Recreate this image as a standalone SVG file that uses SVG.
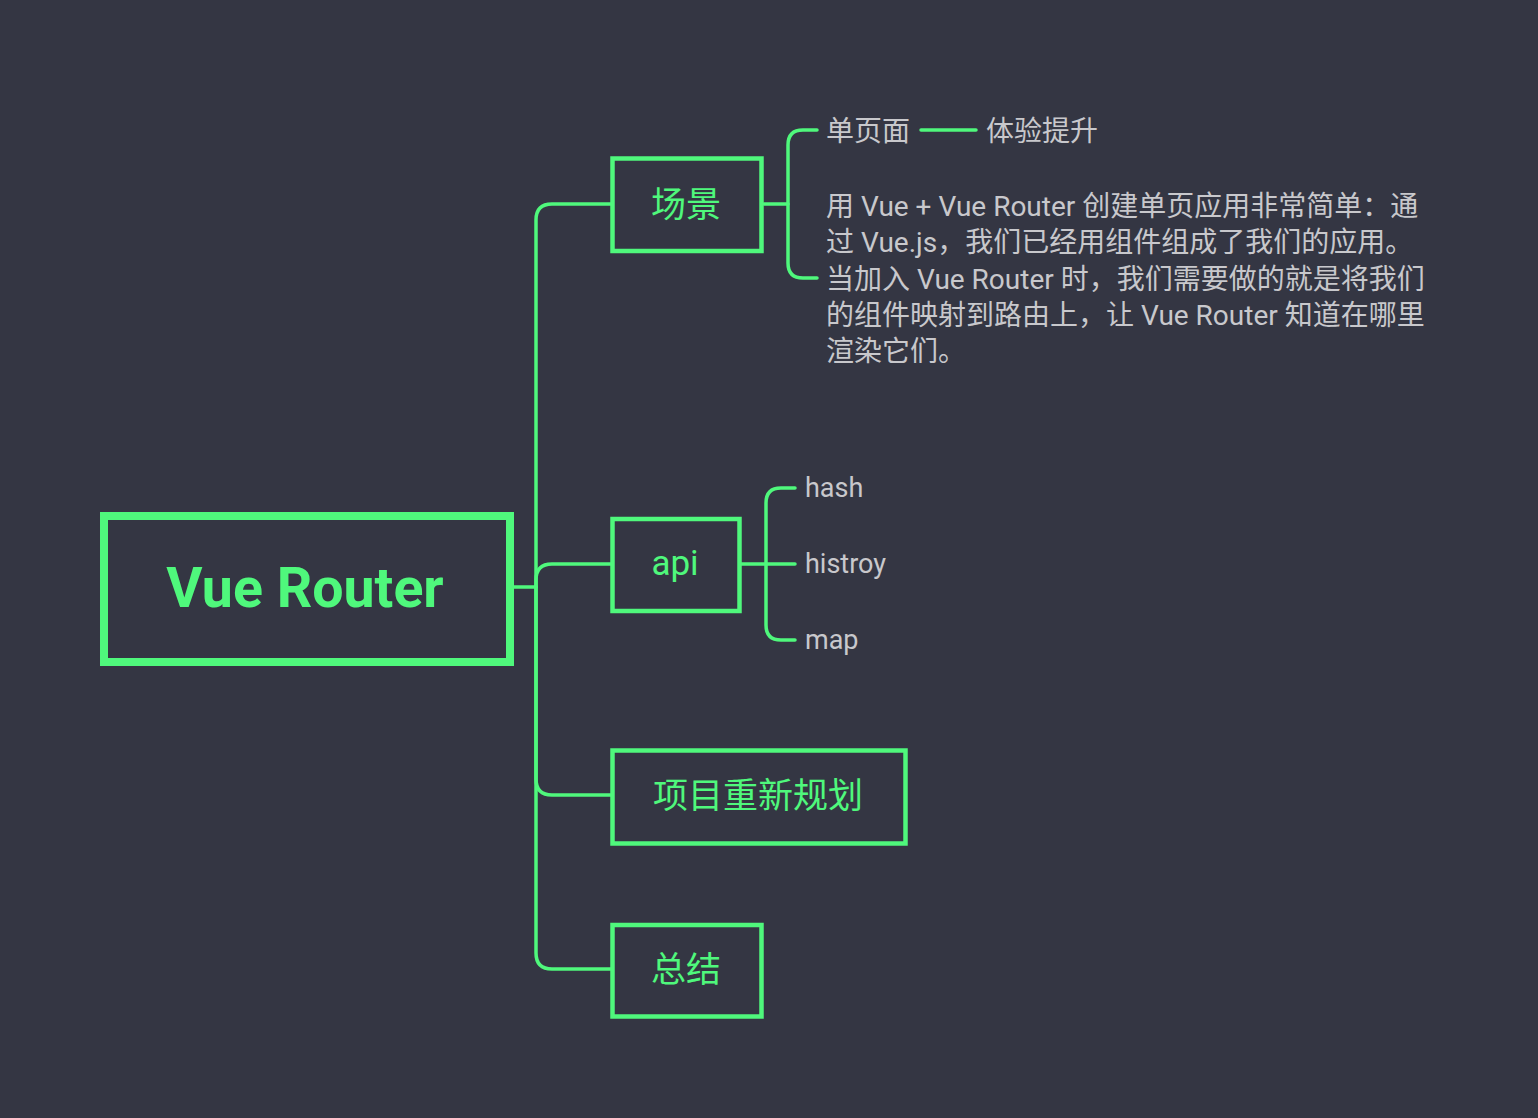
<svg xmlns="http://www.w3.org/2000/svg" width="1538" height="1118" viewBox="0 0 1538 1118">
  <style>
    .box { fill: none; stroke: #4ff87c; stroke-width: 4.5; }
    .root { fill: none; stroke: #4ff87c; stroke-width: 8; }
    .conn { fill: none; stroke: #4ff87c; stroke-width: 3.5; stroke-linecap: round; stroke-linejoin: round; }
    .g { fill: #4ff87c; font-family: "Roboto", "Noto Sans CJK SC", sans-serif; font-size: 35px; }
    .rt { fill: #4ff87c; font-family: "Roboto", "Noto Sans CJK SC", sans-serif; font-size: 55.5px; font-weight: bold; }
    .t { fill: #c8c8cc; font-family: "Roboto", "Noto Sans CJK SC", sans-serif; font-size: 28px; }
    .l { fill: #c8c8cc; font-family: "Roboto", "Noto Sans CJK SC", sans-serif; font-size: 27px; }
  </style>
  <rect x="0" y="0" width="1538" height="1118" fill="#343643"/>
  <g id="connectors">
    <path class="conn" d="M 514 587 H 536"/>
    <path class="conn" d="M 536 587 V 220 Q 536 204 552 204 H 612"/>
    <path class="conn" d="M 536 587 V 580 Q 536 564 552 564 H 612"/>
    <path class="conn" d="M 536 587 V 779 Q 536 795 552 795 H 612"/>
    <path class="conn" d="M 536 587 V 953 Q 536 969 552 969 H 612"/>
    <path class="conn" d="M 764 204 H 788"/>
    <path class="conn" d="M 817 130 H 803 Q 788 130 788 145 V 263 Q 788 278 803 278 H 817"/>
    <path class="conn" d="M 921 130 H 976"/>
    <path class="conn" d="M 741 564 H 795"/>
    <path class="conn" d="M 795 488 H 781 Q 766 488 766 503 V 625 Q 766 640 781 640 H 795"/>
  </g>
  <g id="node-root">
    <rect class="root" x="104" y="516" width="406" height="146"/>
    <text class="rt" x="305" y="607" text-anchor="middle">Vue Router</text>
  </g>
  <g id="node-changjing">
    <rect class="box" x="612.5" y="158.5" width="149" height="92.5"/>
    <text class="g" x="686" y="217" text-anchor="middle">场景</text>
  </g>
  <g id="node-danyemian">
    <text class="t" x="826" y="140.5">单页面</text>
  </g>
  <g id="node-tiyan">
    <text class="t" x="986" y="140.5">体验提升</text>
  </g>
  <g id="node-desc">
    <text class="t" x="826" y="216">
      <tspan x="826" y="216">用 Vue + Vue Router 创建单页应用非常简单：通</tspan>
      <tspan x="826" y="252.3">过 Vue.js，我们已经用组件组成了我们的应用。</tspan>
      <tspan x="826" y="288.6">当加入 Vue Router 时，我们需要做的就是将我们</tspan>
      <tspan x="826" y="324.9">的组件映射到路由上，让 Vue Router 知道在哪里</tspan>
      <tspan x="826" y="361.2">渲染它们。</tspan>
    </text>
  </g>
  <g id="node-api">
    <rect class="box" x="612.5" y="519" width="127" height="92"/>
    <text class="g" x="675" y="575" text-anchor="middle">api</text>
  </g>
  <g id="node-hash">
    <text class="l" x="805" y="497">hash</text>
  </g>
  <g id="node-histroy">
    <text class="l" x="805" y="573">histroy</text>
  </g>
  <g id="node-map">
    <text class="l" x="805" y="649">map</text>
  </g>
  <g id="node-xiangmu">
    <rect class="box" x="612.5" y="750.5" width="293" height="93"/>
    <text class="g" x="758" y="808" text-anchor="middle">项目重新规划</text>
  </g>
  <g id="node-zongjie">
    <rect class="box" x="612.5" y="925" width="149" height="91.5"/>
    <text class="g" x="686" y="982" text-anchor="middle">总结</text>
  </g>
</svg>
